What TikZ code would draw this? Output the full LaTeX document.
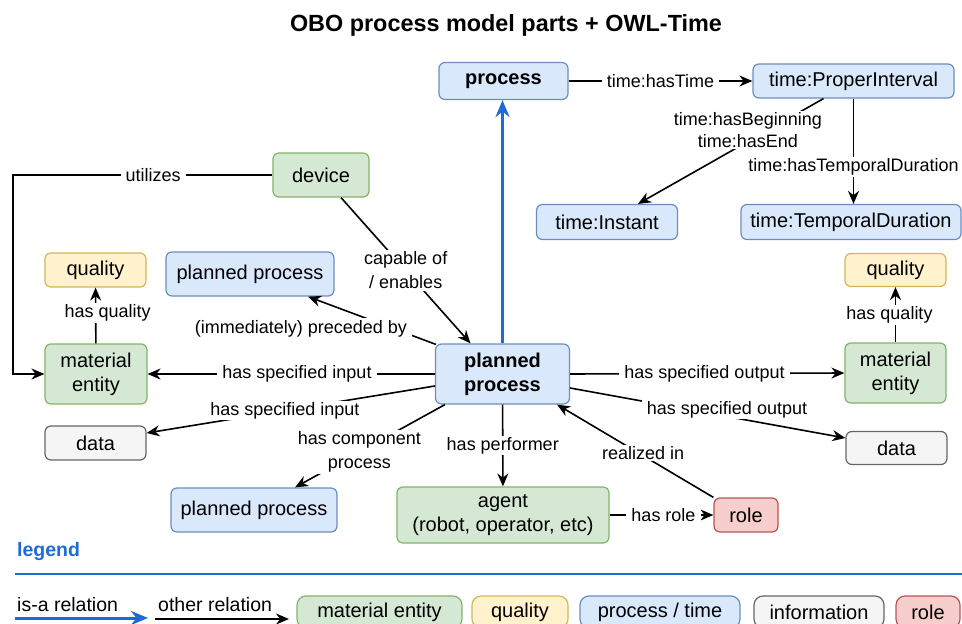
\documentclass[tikz,border=0pt]{standalone}
\usepackage{fontspec}
\setmainfont{Liberation Sans}
\usetikzlibrary{arrows.meta}

\definecolor{matfill}{HTML}{D5E8D4}
\definecolor{matline}{HTML}{82B366}
\definecolor{qualfill}{HTML}{FFF2CC}
\definecolor{qualline}{HTML}{D6B656}
\definecolor{procfill}{HTML}{DAE8FC}
\definecolor{procline}{HTML}{6C8EBF}
\definecolor{infofill}{HTML}{F5F5F5}
\definecolor{infoline}{HTML}{666666}
\definecolor{rolefill}{HTML}{F8CECC}
\definecolor{roleline}{HTML}{B85450}
\definecolor{isablue}{HTML}{1E6BD6}

\tikzset{
	box/.style={draw, rounded corners=6pt, line width=1.2pt, align=center, inner sep=0pt,
		font=\fontsize{20}{24}\selectfont},
	bold/.style={font=\fontsize{20}{24}\selectfont\bfseries},
	mat/.style={box, fill=matfill, draw=matline},
	qual/.style={box, fill=qualfill, draw=qualline},
	proc/.style={box, fill=procfill, draw=procline},
	info/.style={box, fill=infofill, draw=infoline},
	rolebox/.style={box, fill=rolefill, draw=roleline},
	keybox/.style={rounded corners=9pt, minimum height=32pt},
	lbl/.style={fill=white, inner xsep=5pt, inner ysep=1.5pt, align=center, font=\fontsize{18}{24}\selectfont},
	keytext/.style={anchor=west, inner sep=0pt, font=\fontsize{19.5}{22}\selectfont},
	rel/.style={line width=1.6pt, -{Stealth[length=13pt,width=11pt]}},
	isa/.style={line width=3pt, draw=isablue, -{Stealth[length=17pt,width=14pt]}},
}

\begin{document}
\begin{tikzpicture}[x=1pt,y=-1pt]
	\useasboundingbox (0,0) rectangle (962,624);
	
	% title
	\node[font=\fontsize{23.4}{28}\selectfont\bfseries] (title) at (506,25) {OBO process model parts + OWL-Time};
	
	% time part
	\node[proc, bold, minimum width=129pt, minimum height=37pt] (process) at (503.5,81) {process};
	\node[proc, minimum width=201pt, minimum height=34pt] (interval) at (853.5,81) {time:ProperInterval};
	\node[proc, minimum width=141pt, minimum height=35pt] (instant) at (607,222) {time:Instant};
	\node[proc, minimum width=220pt, minimum height=35pt] (duration) at (851,222) {time:TemporalDuration};
	
	% process part
	\node[mat, minimum width=96pt, minimum height=44pt] (device) at (321,175) {device};
	\node[qual, minimum width=101pt, minimum height=34pt] (qualityL) at (95.5,270) {quality};
	\node[proc, minimum width=168pt, minimum height=44pt] (prevproc) at (250,274) {planned process};
	\node[mat, minimum width=102pt, minimum height=60pt] (inputmat) at (96,374) {material\\entity};
	\node[proc, bold, minimum width=134pt, minimum height=60pt] (planned) at (502.5,374) {planned\\process};
	\node[info, minimum width=101pt, minimum height=34pt] (inputdata) at (95.5,443) {data};
	\node[proc, minimum width=166pt, minimum height=44pt] (subproc) at (254,510) {planned process};
	\node[mat, minimum width=212pt, minimum height=56pt] (agent) at (503,515) {agent\\(robot, operator, etc)};
	\node[rolebox, minimum width=64pt, minimum height=34pt] (role) at (746,515) {role};
	\node[qual, minimum width=101pt, minimum height=33pt] (qualityR) at (895.5,270) {quality};
	\node[mat, minimum width=101pt, minimum height=60pt] (outputmat) at (895.5,373) {material\\entity};
	\node[info, minimum width=101pt, minimum height=33pt] (outputdata) at (896.5,448) {data};
	
	% relations
	\draw[rel] (process) -- node[lbl]{time:hasTime} (interval);
	\draw[rel] ([xshift=-30pt]interval.south) -- node[lbl, pos=.3, xshift=-20pt, font=\fontsize{18}{22}\selectfont]{time:hasBeginning\\time:hasEnd} ([xshift=31pt]instant.north);
	\draw[rel] (interval.south) -- node[lbl, pos=.65]{time:hasTemporalDuration} (interval.south |- duration.north);
	\draw[isa] (planned.north) -- (planned.north |- process.south);
	
	\coordinate (bendL) at (13,175);
	\draw[rel] (device.west) -- node[lbl, pos=.46]{utilizes} (bendL) |- (inputmat.west);
	\draw[rel] ([xshift=20pt]device.south) -- node[lbl]{capable of\\/ enables} ([xshift=-32pt]planned.north);
	\draw[rel] ([xshift=1pt,yshift=-1pt]planned.north west) -- node[lbl, pos=.43, xshift=-80pt, yshift=-4.5pt]{(immediately) preceded by} ([xshift=58pt]prevproc.south);
	\draw[rel] (planned.west) -- node[lbl, pos=.48]{has specified input} (inputmat.east);
	\draw[rel] ([yshift=-12pt]planned.west) -- node[lbl, pos=.52]{has specified input} ([yshift=10pt]inputdata.east);
	\draw[rel] ([xshift=10pt]planned.south west) -- node[lbl, pos=.57]{has component\\process} ([xshift=41pt]subproc.north);
	\draw[rel] (planned) -- node[lbl]{has performer} (agent);
	\draw[rel] (role.north west) -- node[lbl, pos=.45, yshift=3pt]{realized in} ([xshift=-13pt]planned.south east);
	\draw[rel] (agent) -- node[lbl, xshift=2pt]{has role} (role);
	\draw[rel] (planned.east) -- node[lbl, pos=.49]{has specified output} (outputmat.west);
	\draw[rel] ([yshift=-14pt]planned.east) -- node[lbl, pos=.57, yshift=7pt]{has specified output} ([yshift=10pt]outputdata.west);
	\draw[rel] (inputmat) -- node[lbl, pos=.55, xshift=12pt]{has quality} (qualityL);
	\draw[rel] (outputmat) -- node[lbl, pos=.49, xshift=-6pt]{has quality} (qualityR);
	
	% legend
	\node[keytext, text=isablue, font=\fontsize{19.5}{22}\selectfont\bfseries] (legend) at (17,551) {legend};
	\draw[line width=2pt, isablue] (15,574) -- (962,574);
	\node[keytext] (isatext) at (17,605) {is-a relation};
	\coordinate (isaA) at (15,618);
	\coordinate (isaB) at (148,618);
	\draw[isa] (isaA) -- (isaB);
	\node[keytext] (reltext) at (158,605) {other relation};
	\coordinate (relA) at (155,619);
	\coordinate (relB) at (289,619);
	\draw[rel] (relA) -- (relB);
	\node[mat, keybox, minimum width=165pt] (keymat) at (379.5,612) {material entity};
	\node[qual, keybox, minimum width=96pt] (keyqual) at (520,612) {quality};
	\node[proc, keybox, minimum width=160pt] (keyproc) at (660,612) {process / time};
	\node[info, keybox, minimum width=130pt] (keyinfo) at (819,612) {information};
	\node[rolebox, keybox, minimum width=64pt] (keyrole) at (928,612) {role};
\end{tikzpicture}
\end{document}
